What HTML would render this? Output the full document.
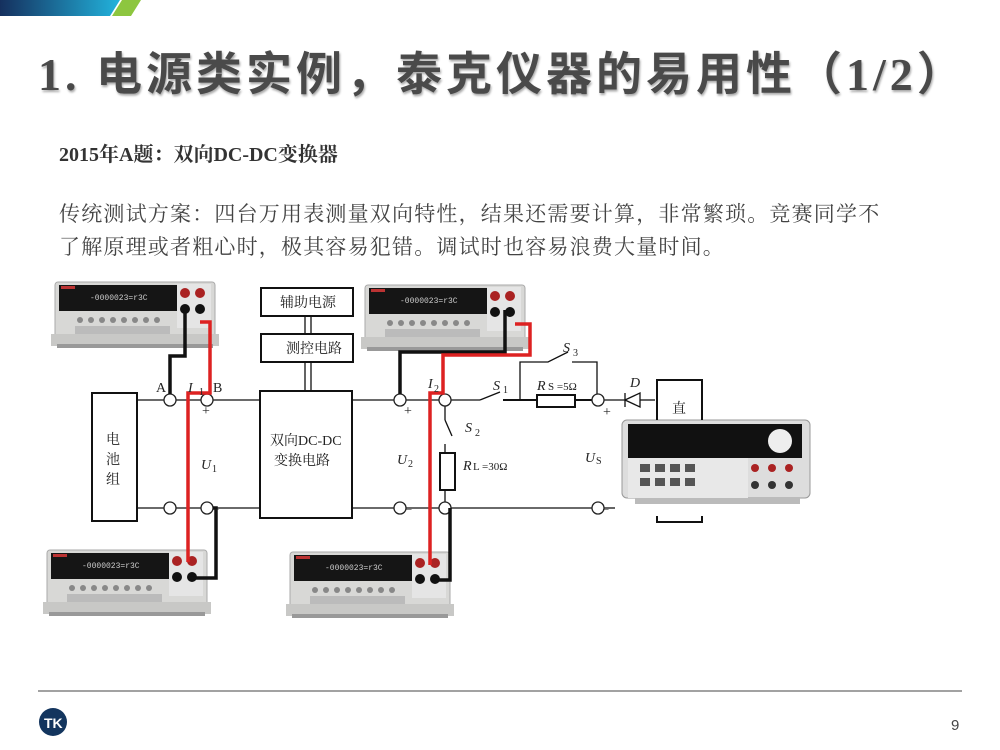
<!DOCTYPE html>
<html><head><meta charset="utf-8"><style>
body{margin:0;width:1000px;height:750px;background:#fff;overflow:hidden;position:relative;font-family:"Liberation Serif","Noto Serif CJK SC",serif}
.t{position:absolute;white-space:nowrap}
</style></head><body>
<svg width="1000" height="750" style="position:absolute;left:0;top:0" font-family="Liberation Serif, Noto Serif CJK SC, serif">
<defs>
<linearGradient id="g" x1="0" x2="1"><stop offset="0" stop-color="#15305e"/><stop offset="1" stop-color="#22b3dc"/></linearGradient>
<g id="dmm">
<rect x="0" y="0" width="160" height="58" rx="3" fill="#d8d8d6" stroke="#aaa"/>
<rect x="4" y="3" width="118" height="26" fill="#151515"/>
<rect x="6" y="4" width="14" height="3" fill="#b33"/>
<text x="35" y="18" font-size="8" fill="#ccc" font-family="Liberation Mono">-0000023=r3C</text>
<rect x="122" y="2" width="34" height="44" fill="#e5e5e5"/>
<circle cx="130" cy="11" r="5" fill="#a22"/><circle cx="145" cy="11" r="5" fill="#a22"/>
<circle cx="130" cy="27" r="5" fill="#111"/><circle cx="145" cy="27" r="5" fill="#111"/>
<g fill="#888"><circle cx="25" cy="38" r="3"/><circle cx="36" cy="38" r="3"/><circle cx="47" cy="38" r="3"/><circle cx="58" cy="38" r="3"/><circle cx="69" cy="38" r="3"/><circle cx="80" cy="38" r="3"/><circle cx="91" cy="38" r="3"/><circle cx="102" cy="38" r="3"/></g>
<rect x="20" y="44" width="95" height="8" fill="#bbb"/>
<rect x="-4" y="52" width="168" height="12" fill="#c8c8c6"/>
<rect x="2" y="62" width="156" height="4" fill="#999"/>
</g>
</defs>
<path d="M0 0H120L110 16H0Z" fill="url(#g)"/>
<path d="M112 16L122 0H141L131 16Z" fill="#8dc63f"/>
<line x1="38" y1="691" x2="962" y2="691" stroke="#444" stroke-width="1"/>
<circle cx="53" cy="722" r="14" fill="#13355e"/>
<text x="44" y="728" font-size="14" font-weight="bold" fill="#fff" font-family="Liberation Sans">TK</text>
<text x="951" y="730" font-size="15" fill="#444" font-family="Liberation Sans">9</text>

<use href="#dmm" x="55" y="282"/>
<use href="#dmm" x="365" y="285"/>
<use href="#dmm" x="47" y="550"/>
<use href="#dmm" x="290" y="552"/>

<rect x="622" y="420" width="188" height="78" rx="5" fill="#ddd" stroke="#999"/>
<rect x="628" y="424" width="174" height="34" fill="#111"/>
<circle cx="780" cy="441" r="12" fill="#eee"/>
<rect x="628" y="458" width="120" height="40" fill="#e8e8e8"/>
<g fill="#555"><rect x="640" y="464" width="10" height="8"/><rect x="655" y="464" width="10" height="8"/><rect x="670" y="464" width="10" height="8"/><rect x="685" y="464" width="10" height="8"/><rect x="640" y="478" width="10" height="8"/><rect x="655" y="478" width="10" height="8"/><rect x="670" y="478" width="10" height="8"/><rect x="685" y="478" width="10" height="8"/></g>
<circle cx="755" cy="468" r="4" fill="#a22"/><circle cx="772" cy="468" r="4" fill="#a22"/><circle cx="789" cy="468" r="4" fill="#a22"/>
<circle cx="755" cy="485" r="4" fill="#333"/><circle cx="772" cy="485" r="4" fill="#333"/><circle cx="789" cy="485" r="4" fill="#333"/>
<rect x="635" y="498" width="165" height="6" fill="#bbb"/>

<g stroke="#111" stroke-width="2" fill="none">
<rect x="92" y="393" width="45" height="128"/>
<rect x="260" y="391" width="92" height="127"/>
<rect x="261" y="288" width="92" height="28"/>
<rect x="261" y="334" width="92" height="28"/>
</g>
<g stroke="#111" stroke-width="1.3" fill="none">
<line x1="137" y1="400" x2="164" y2="400"/><line x1="176" y1="400" x2="201" y2="400"/><line x1="213" y1="400" x2="260" y2="400"/>
<line x1="137" y1="508" x2="164" y2="508"/><line x1="176" y1="508" x2="201" y2="508"/><line x1="213" y1="508" x2="260" y2="508"/>
<line x1="352" y1="400" x2="394" y2="400"/><line x1="406" y1="400" x2="439" y2="400"/><line x1="451" y1="400" x2="480" y2="400"/>
<line x1="352" y1="508" x2="394" y2="508"/><line x1="406" y1="508" x2="439" y2="508"/><line x1="451" y1="508" x2="592" y2="508"/><line x1="604" y1="508" x2="615" y2="508"/>
<line x1="480" y1="400" x2="500" y2="392"/>
<line x1="503" y1="400" x2="537" y2="400" stroke-width="2"/><line x1="575" y1="400" x2="592" y2="400" stroke-width="2"/>
<rect x="537" y="395" width="38" height="12" stroke-width="2"/>
<polyline points="520,400 520,362 548,362 568,352"/><polyline points="572,362 597,362 597,394"/>
<line x1="604" y1="400" x2="625" y2="400"/>
<path d="M625 393V407M625 400L640 393V407Z"/><line x1="640" y1="400" x2="655" y2="400"/>
<polyline points="657,420 657,380 702,380 702,420" stroke-width="2"/>
<polyline points="657,516 657,522 702,522 702,516" stroke-width="2"/>
<line x1="445" y1="406" x2="445" y2="420"/><line x1="445" y1="420" x2="452" y2="436"/><line x1="445" y1="444" x2="445" y2="453"/>
<rect x="440" y="453" width="15" height="37" stroke-width="2"/><line x1="445" y1="490" x2="445" y2="502"/>
<line x1="305" y1="316" x2="305" y2="334"/><line x1="311" y1="316" x2="311" y2="334"/>
<line x1="305" y1="362" x2="305" y2="391"/><line x1="311" y1="362" x2="311" y2="391"/>
</g>
<g fill="#fff" stroke="#222" stroke-width="1.3">
<circle cx="170" cy="400" r="6"/><circle cx="207" cy="400" r="6"/><circle cx="170" cy="508" r="6"/><circle cx="207" cy="508" r="6"/>
<circle cx="400" cy="400" r="6"/><circle cx="445" cy="400" r="6"/><circle cx="400" cy="508" r="6"/><circle cx="445" cy="508" r="6"/>
<circle cx="598" cy="400" r="6"/><circle cx="598" cy="508" r="6"/>
</g>
<g fill="none" stroke-width="3.5">
<polyline stroke="#111" points="185,310 185,356 170,356 170,394"/>
<polyline stroke="#111" points="190,578 216,578 216,508 213,508"/>
<polyline stroke="#d22" points="200,322 210,322 210,393 188,393 188,562"/>
<polyline stroke="#111" points="505,310 505,352 400,352 400,394"/>
<polyline stroke="#d22" points="515,324 530,324 530,355 443,355 443,393 430,393 430,565"/>
<polyline stroke="#111" points="432,580 450,580 450,508"/>
</g>
<g font-size="14" fill="#222" font-style="italic">
<text x="156" y="392" font-style="normal">A</text><text x="188" y="392">I</text><text x="199" y="395" font-size="10" font-style="normal">1</text><text x="213" y="392" font-style="normal">B</text>
<text x="202" y="415" font-style="normal">+</text><text x="213" y="512" font-style="normal" font-size="11">–</text>
<text x="201" y="469">U</text><text x="212" y="472" font-size="10" font-style="normal">1</text>
<text x="397" y="464">U</text><text x="408" y="467" font-size="10" font-style="normal">2</text>
<text x="404" y="415" font-style="normal">+</text><text x="406" y="512" font-style="normal" font-size="11">–</text>
<text x="428" y="388">I</text><text x="434" y="392" font-size="10" font-style="normal">2</text>
<text x="493" y="390">S</text><text x="503" y="393" font-size="10" font-style="normal">1</text>
<text x="465" y="432">S</text><text x="475" y="436" font-size="10" font-style="normal">2</text>
<text x="563" y="352">S</text><text x="573" y="356" font-size="10" font-style="normal">3</text>
<text x="537" y="390">R</text><text x="548" y="390" font-size="11" font-style="normal">S =5Ω</text>
<text x="630" y="387">D</text>
<text x="463" y="470">R</text><text x="473" y="470" font-size="11" font-style="normal">L =30Ω</text>
<text x="585" y="462">U</text><text x="596" y="464" font-size="10" font-style="normal">S</text>
<text x="603" y="416" font-style="normal">+</text><text x="603" y="512" font-style="normal" font-size="11">–</text>
</g>
<g font-size="14" fill="#222">
<text x="280" y="307">辅助电源</text><text x="286" y="353">测控电路</text>
<text x="270" y="445">双向DC-DC</text><text x="274" y="465">变换电路</text>
<text x="106" y="444">电</text><text x="106" y="464">池</text><text x="106" y="484">组</text>
<text x="672" y="413">直</text>
</g>
</svg>
<div class="t" style="left:38px;top:38px;font-size:46px;font-family:'Liberation Serif','Noto Sans CJK SC',sans-serif;font-weight:bold;color:#4a4a4a;text-shadow:1px 2px 2px #aaa;letter-spacing:4px">1. 电源类实例，泰克仪器的易用性（1/2）</div>
<div class="t" style="left:59px;top:138px;font-size:20px;font-weight:bold;color:#333">2015年A题：双向DC-DC变换器</div>
<div class="t" style="left:59px;top:198px;font-size:21px;letter-spacing:1.2px;color:#444;line-height:33px">传统测试方案：四台万用表测量双向特性，结果还需要计算，非常繁琐。竞赛同学不<br>了解原理或者粗心时，极其容易犯错。调试时也容易浪费大量时间。</div>
</body></html>
